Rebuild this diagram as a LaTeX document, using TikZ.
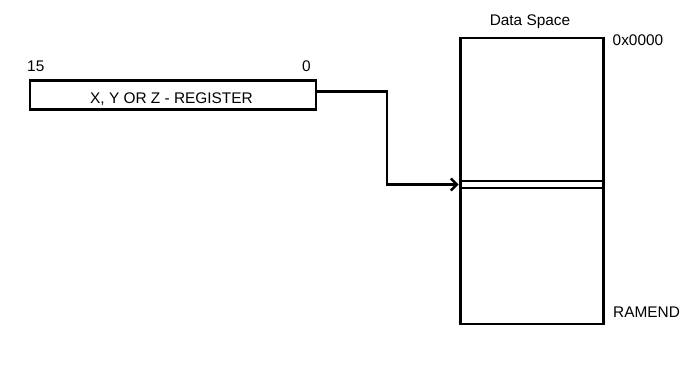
\documentclass[tikz,border=0pt]{standalone}
\usepackage{fontspec}
\setmainfont{Liberation Sans}
\usetikzlibrary{arrows.meta}
\begin{document}
\begin{tikzpicture}[x=1pt,y=-1pt,
  every node/.style={font=\fontsize{15.4}{18}\selectfont, inner sep=0pt},
  outline/.style={draw, line width=2.5pt},
  rowline/.style={draw, line width=1.5pt},
  link/.style={draw, line width=2.5pt, -{Straight Barb[length=6pt,width=12pt,line width=2.4pt]}}]
  \useasboundingbox (0,0) rectangle (694,367);
  % pointer register
  \node[outline, minimum width=286pt, minimum height=29pt, anchor=north west] (reg) at (28.5,79) {};
  \node[anchor=base] (regname) at (171.5,103.3) {X, Y OR Z - REGISTER};
  \node[anchor=base west] (msb) at (27,71) {15};
  \node[anchor=base east] (lsb) at (311,71) {0};
  % data space
  \node[outline, minimum width=143pt, minimum height=286pt, anchor=north west] (mem) at (459.3,36.8) {};
  \node[anchor=center] (title) at (530,22) {Data Space};
  \node[anchor=west] (top) at (612.5,40.5) {0x0000};
  \node[anchor=west] (bot) at (613,312.5) {RAMEND};
  % selected location
  \coordinate (rowa) at (459.3,181);
  \coordinate (rowb) at (459.3,188);
  \draw[rowline] (rowa) -- (rowa -| mem.east);
  \draw[rowline] (rowb) -- (rowb -| mem.east);
  \coordinate (hit) at (458.5,184.5);
  % pointer connector
  \draw[link] (reg.east |- 0,91.7) -| (387,140) |- (hit);
\end{tikzpicture}
\end{document}
